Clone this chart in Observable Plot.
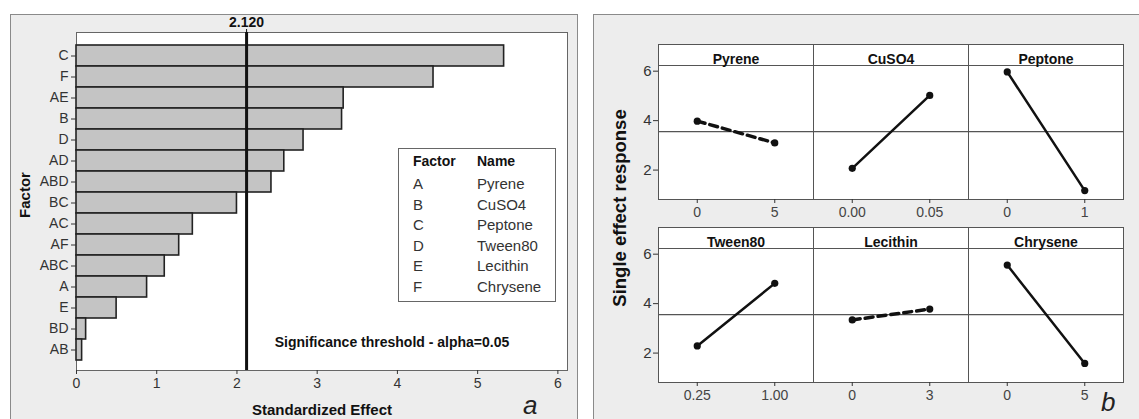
<!DOCTYPE html>
<html>
<head>
<meta charset="utf-8">
<script src="https://cdn.jsdelivr.net/npm/d3@7"></script>
<script src="https://cdn.jsdelivr.net/npm/@observablehq/plot@0.6"></script>
<style>
  html, body { margin: 0; padding: 0; background: #fff; }
  body { font-family: "Liberation Sans", Arial, sans-serif; }
  #root { position: relative; width: 1139px; height: 419px; overflow: hidden; background: #fff; }
  .panel { position: absolute; background: #ededed; border: 1px solid #8a8a8a; box-sizing: border-box; }
  .abs { position: absolute; }
  .tag { position: absolute; font: italic 26px "Liberation Sans", Arial, sans-serif; color: #222; line-height: 24px; }
  #legend { position: absolute; left: 398px; top: 148px; width: 158px; height: 154px; box-sizing: border-box;
            border: 1px solid #666; background: #fff; padding: 2px 0 0 14px; color: #333; font-size: 15px; }
  #legend .row { display: flex; line-height: 20.5px; height: 20.5px; }
  #legend .row.head { font-weight: bold; font-size: 14px; color: #111; line-height: 21px; height: 21px; margin-bottom: 2px; }
  #legend .c1 { width: 64px; }
  g[aria-label="x-axis label"] { font-weight: bold; font-size: 15px; fill: #111; }
  .ytitle { position: absolute; transform: translate(-50%, -50%) rotate(-90deg);
            white-space: nowrap; font-weight: bold; color: #111; }
</style>
</head>
<body>
<div id="root">
  <div class="panel" style="left:10px; top:14px; width:568px; height:430px;"></div>
  <div class="panel" style="left:593px; top:14px; width:560px; height:430px;"></div>
  <div id="chartA" class="abs" style="left:11px; top:15px;"></div>
  <div id="chartB" class="abs" style="left:594px; top:15px;"></div>
  <div id="legend"></div>
  <div id="ytitleA" class="ytitle" style="left:23.5px; top:195px; font-size:15px;"></div>
  <div id="ytitleB" class="ytitle" style="left:620px; top:208px; font-size:18.5px;"></div>
  <div class="tag" style="left:523px; top:393px;">a</div>
  <div class="tag" style="left:1101px; top:390px;">b</div>
</div>
<script>
// ---------- data ----------
const factors = ["C", "F", "AE", "B", "D", "AD", "ABD", "BC", "AC", "AF", "ABC", "A", "E", "BD", "AB"];
const effects = [5.33, 4.45, 3.33, 3.31, 2.83, 2.59, 2.43, 2.00, 1.45, 1.28, 1.10, 0.88, 0.50, 0.12, 0.07];
const threshold = 2.12;
const xTicksA = [0, 1, 2, 3, 4, 5, 6];
const sigLabel = "Significance threshold - alpha=0.05";
const xTitleA = "Standardized Effect";
const yTitleA = "Factor";

const codes = ["A", "B", "C", "D", "E", "F"];
const names = ["Pyrene", "CuSO4", "Peptone", "Tween80", "Lecithin", "Chrysene"];
const lowLabels = ["0", "0.00", "0", "0.25", "0", "0"];
const highLabels = ["5", "0.05", "1", "1.00", "3", "5"];
const lowResponse = [3.98, 2.07, 5.97, 2.29, 3.34, 5.56];
const highResponse = [3.10, 5.02, 1.17, 4.82, 3.78, 1.58];
const yTicksB = [2, 4, 6];
const yTitleB = "Single effect response";

// ---------- chart a: Pareto ----------
const pareto = factors.map((f, i) => ({factor: f, effect: effects[i]}));
const fontFamily = "'Liberation Sans', Arial, sans-serif";

const chartA = Plot.plot({
  width: 566, height: 404,
  marginLeft: 65, marginRight: 10, marginTop: 17, marginBottom: 49,
  style: {background: "transparent", fontFamily, fontSize: "14px", color: "#333"},
  x: {domain: [0, 6.12]},
  y: {domain: factors, padding: 0, insetTop: 6, insetBottom: 4},
  marks: [
    Plot.frame({fill: "white", stroke: "#666"}),
    Plot.barX(pareto, {x: "effect", y: "factor", fill: "#c4c4c4", stroke: "#222", strokeWidth: 1.6}),
    Plot.ruleX([threshold], {stroke: "#111", strokeWidth: 3}),
    Plot.axisX({ticks: xTicksA, tickFormat: d3.format("d"), tickSize: 4, tickPadding: 4, fontSize: 14,
                label: xTitleA, labelAnchor: "center", labelArrow: "none", labelOffset: 44}),
    Plot.axisX([threshold], {anchor: "top", tickFormat: d3.format(".3f"), tickSize: 4, tickPadding: 2,
                label: null, fontWeight: "bold", fontSize: 14, color: "#111"}),
    Plot.axisY({tickSize: 5, tickPadding: 3, fontSize: 14, label: null}),
    Plot.text([sigLabel], {text: d => d, frameAnchor: "bottom", dx: 70, dy: -24,
                fontWeight: "bold", fontSize: 14, fill: "#111"})
  ]
});
document.getElementById("chartA").append(chartA);
document.getElementById("ytitleA").textContent = yTitleA;

// legend table (factor codes -> names)
const legend = document.getElementById("legend");
legend.innerHTML = `<div class="row head"><div class="c1">Factor</div><div>Name</div></div>` +
  codes.map((c, i) => `<div class="row"><div class="c1">${c}</div><div>${names[i]}</div></div>`).join("");

// ---------- chart b: main effects ----------
const cells = codes.map((c, i) => ({
  code: c, name: names[i], col: i % 3, row: Math.floor(i / 3),
  sig: effects[factors.indexOf(c)] > threshold
}));
const pts = cells.flatMap((c, i) => [
  {...c, pos: 0, value: lowResponse[i], label: lowLabels[i]},
  {...c, pos: 1, value: highResponse[i], label: highLabels[i]}
]);
const grandMean = d3.mean(pts, d => d.value);

const chartB = Plot.plot({
  width: 545, height: 404,
  marginLeft: 63, marginRight: 15, marginTop: 28, marginBottom: 36,
  style: {background: "transparent", fontFamily, fontSize: "14px", color: "#333"},
  fx: {domain: [0, 1, 2], padding: 0, axis: null},
  fy: {domain: [0, 1], paddingInner: 0.151, paddingOuter: 0, axis: null},
  x: {domain: [-0.5, 1.5]},
  y: {domain: [0.81, 6.23], insetTop: 21},
  marks: [
    Plot.frame({fill: "white", stroke: "#555"}),
    Plot.frame({insetTop: 21, stroke: "#555"}),
    Plot.ruleY([grandMean], {stroke: "#555", strokeWidth: 1.2}),
    Plot.text(cells, {fx: "col", fy: "row", text: "name", frameAnchor: "top", dy: 10,
                      fontWeight: "bold", fontSize: 14, fill: "#111"}),
    Plot.line(pts.filter(d => d.sig), {x: "pos", y: "value", fx: "col", fy: "row", z: "code",
                      stroke: "#111", strokeWidth: 2.5}),
    Plot.line(pts.filter(d => !d.sig), {x: "pos", y: "value", fx: "col", fy: "row", z: "code",
                      stroke: "#111", strokeWidth: 3.5, strokeDasharray: "8,5"}),
    Plot.dot(pts, {x: "pos", y: "value", fx: "col", fy: "row", r: 3.6, fill: "#111"}),
    Plot.axisX({ticks: [0, 1], tickSize: 4, tickFormat: () => "", label: null, facetAnchor: null}),
    Plot.text(pts, {x: "pos", fx: "col", fy: "row", text: "label", frameAnchor: "bottom", dy: 17,
                    fontSize: 14, fill: "#444"}),
    Plot.axisY({ticks: yTicksB, tickFormat: d3.format("d"), tickSize: 5, tickPadding: 2, fontSize: 15, label: null})
  ]
});
document.getElementById("chartB").append(chartB);
document.getElementById("ytitleB").textContent = yTitleB;
</script>
</body>
</html>
